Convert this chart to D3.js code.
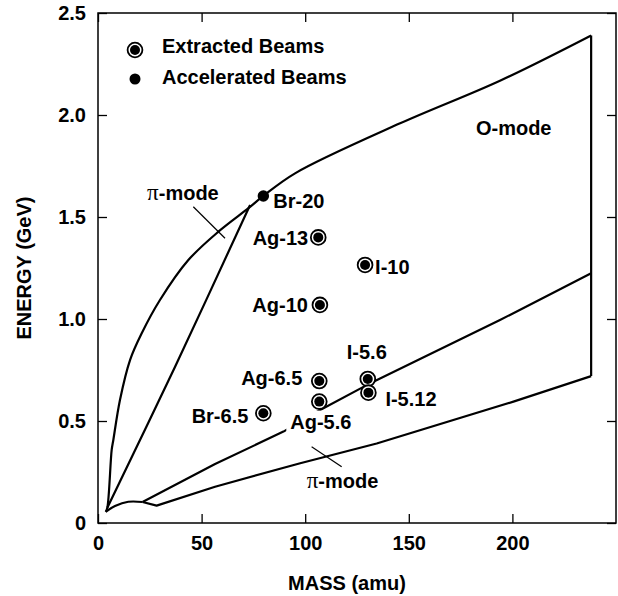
<!DOCTYPE html>
<html>
<head>
<meta charset="utf-8">
<script src="https://cdn.jsdelivr.net/npm/d3@7"></script>
<style>
body { margin: 0; background: #fff; }
svg { font-family: "Liberation Sans", Arial, Helvetica, sans-serif; font-weight: bold; }
.frame { fill: none; stroke: #000; stroke-width: 1.5; }
.curve { fill: none; stroke: #000; stroke-width: 2.2; stroke-linejoin: round; }
.leader { stroke: #000; stroke-width: 1.2; }
.axis text { font-size: 20px; font-weight: bold; fill: #000; font-family: "Liberation Sans", Arial, sans-serif; }
.axis line { stroke: #000; stroke-width: 1.3; }
.axis path { display: none; }
.lbl { font-size: 20px; fill: #000; }
</style>
</head>
<body>
<svg width="618" height="596"></svg>
<script>
// beam points (mass in amu, energy in GeV)
const beamNames  = ['Br-20', 'Ag-13', 'I-10', 'Ag-10', 'Ag-6.5', 'Ag-5.6', 'I-5.6', 'I-5.12', 'Br-6.5'];
const beamMass   = [79.8, 106.3, 128.9, 107.1, 106.8, 106.8, 130.2, 130.5, 79.8];
const beamEnergy = [1.603, 1.40, 1.265, 1.069, 0.696, 0.595, 0.706, 0.639, 0.538];
const beamKind   = ['accelerated', 'extracted', 'extracted', 'extracted', 'extracted', 'extracted', 'extracted', 'extracted', 'extracted'];

// boundary curves [mass, energy]
const upperEdge  = [[3.7,0.055],[4.5,0.075],[6.6,0.358],[7.4,0.407],[10.6,0.603],[15.5,0.8],[21.1,0.93],[29.9,1.093],[43.6,1.289],[58.1,1.428],[72.6,1.543],[79.8,1.603],[95.1,1.714],[145.8,1.959],[194,2.168],[238,2.39]];
const piLine     = [[4.5,0.075],[37.2,0.766],[73.4,1.559]];
const bumpArc    = [[3.7,0.055],[8.2,0.083],[14.6,0.104],[21.5,0.103]];
const middleLine = [[21.5,0.103],[56.5,0.289],[89.5,0.448],[107,0.553],[129.7,0.676],[194,0.995],[238,1.224]];
const lowerLine  = [[21.5,0.103],[28.3,0.085],[56.5,0.178],[97.6,0.293],[134.5,0.39],[200.5,0.595],[238,0.72]];
const rightEdge  = [[238,2.39],[238,0.72]];

const piLeaders  = [[[46,1.55],[61.3,1.396]], [[103.1,0.374],[117.6,0.276]]];
const modeLabels = [['π', '-mode', 23.7, 1.583], ['π', '-mode', 100.7, 0.172], ['', 'O-mode', 182.4, 1.902]];

const xTicks = [0, 50, 100, 150, 200];
const yTicks = [0, 0.5, 1.0, 1.5, 2.0, 2.5];

// label placement around each marker, pixels
const labelPos = {
    'Br-20':  {dx: 10,  dy: 12,  anchor: 'start'},
    'Ag-13':  {dx: -10, dy: 8,   anchor: 'end'},
    'I-10':   {dx: 10,  dy: 9,   anchor: 'start'},
    'Ag-10':  {dx: -12, dy: 7,   anchor: 'end'},
    'Ag-6.5': {dx: -17, dy: 4,   anchor: 'end'},
    'Ag-5.6': {dx: -29, dy: 27,  anchor: 'start', knockout: true},
    'I-5.6':  {dx: -1,  dy: -20, anchor: 'middle'},
    'I-5.12': {dx: 17,  dy: 13,  anchor: 'start'},
    'Br-6.5': {dx: -15, dy: 10,  anchor: 'end'}
};

let svg = d3.select('svg'),
    mLeft = 98, mRight = 616, mTop = 13, mBottom = 523,
    x = d3.scaleLinear().domain([0, 250]).range([mLeft, mRight]),
    y = d3.scaleLinear().domain([0, 2.5]).range([mBottom, mTop]);

// axes, ticks pointing inwards on all four sides
let yFmt = d => d === 0 ? '0' : d3.format('.1f')(d);
svg.append('g').attr('class', 'axis')
    .attr('transform', `translate(${mLeft},0)`)
    .call(d3.axisLeft(y).tickValues(yTicks).tickFormat(yFmt).tickSizeInner(-9).tickSizeOuter(0).tickPadding(12));
svg.append('g').attr('class', 'axis')
    .attr('transform', `translate(0,${mBottom})`)
    .call(d3.axisBottom(x).tickValues(xTicks).tickSizeInner(-9).tickSizeOuter(0).tickPadding(13));
svg.append('g').attr('class', 'axis')
    .attr('transform', `translate(0,${mTop})`)
    .call(d3.axisTop(x).tickValues(xTicks).tickFormat('').tickSizeInner(-9).tickSizeOuter(0));
svg.append('g').attr('class', 'axis')
    .attr('transform', `translate(${mRight},0)`)
    .call(d3.axisRight(y).tickValues(yTicks).tickFormat('').tickSizeInner(-9).tickSizeOuter(0));

svg.append('rect').attr('class', 'frame')
    .attr('x', mLeft).attr('y', mTop)
    .attr('width', mRight - mLeft).attr('height', mBottom - mTop);

svg.append('text').attr('class', 'lbl')
    .attr('text-anchor', 'middle')
    .attr('transform', `translate(31,${(mTop + mBottom) / 2}) rotate(-90)`)
    .text('ENERGY (GeV)');
svg.append('text').attr('class', 'lbl')
    .attr('text-anchor', 'middle')
    .attr('x', 347).attr('y', 590)
    .text('MASS (amu)');

// curves
let smooth = d3.line().x(d => x(d[0])).y(d => y(d[1])).curve(d3.curveCatmullRom.alpha(0.5));
let straight = d3.line().x(d => x(d[0])).y(d => y(d[1]));
let curves = svg.append('g');
curves.append('path').attr('class', 'curve').attr('d', smooth(upperEdge));
curves.append('path').attr('class', 'curve').attr('d', smooth(piLine));
curves.append('path').attr('class', 'curve').attr('d', smooth(bumpArc));
curves.append('path').attr('class', 'curve').attr('d', straight(middleLine));
curves.append('path').attr('class', 'curve').attr('d', straight(lowerLine));
curves.append('path').attr('class', 'curve').attr('d', straight(rightEdge));

svg.append('g').selectAll('line').data(piLeaders).enter().append('line')
    .attr('class', 'leader')
    .attr('x1', d => x(d[0][0])).attr('y1', d => y(d[0][1]))
    .attr('x2', d => x(d[1][0])).attr('y2', d => y(d[1][1]));

let modes = svg.append('g').selectAll('text').data(modeLabels).enter().append('text')
    .attr('class', 'lbl')
    .attr('x', d => x(d[2])).attr('y', d => y(d[3]));
modes.append('tspan')
    .style('font-family', '"Liberation Serif", "DejaVu Serif", serif')
    .style('font-weight', 'normal').style('font-size', '23px')
    .text(d => d[0]);
modes.append('tspan').text(d => d[1]);

// beam markers and labels
let beams = beamNames.map((n, i) => ({name: n, mass: beamMass[i], energy: beamEnergy[i], kind: beamKind[i]}));
let labels = svg.append('g');
beams.forEach(b => {
    let p = labelPos[b.name];
    let t = labels.append('text').attr('class', 'lbl')
        .attr('x', x(b.mass) + p.dx).attr('y', y(b.energy) + p.dy)
        .attr('text-anchor', p.anchor)
        .text(b.name);
    if (p.knockout) {
        let bb = t.node().getBBox();
        labels.insert('rect', 'text')
            .attr('x', bb.x - 4).attr('y', bb.y).attr('width', bb.width + 4).attr('height', bb.height)
            .attr('fill', '#fff');
    }
});

let marks = svg.append('g').selectAll('g').data(beams).enter().append('g')
    .attr('transform', d => `translate(${x(d.mass)},${y(d.energy)})`);
marks.filter(d => d.kind === 'extracted').append('circle')
    .attr('r', 7.4).attr('fill', '#fff').attr('stroke', '#000').attr('stroke-width', 1.8);
marks.append('circle')
    .attr('r', d => d.kind === 'extracted' ? 5 : 5.7).attr('fill', '#000');

// legend
let legend = svg.append('g');
legend.append('circle').attr('cx', 135).attr('cy', 50).attr('r', 7.4)
    .attr('fill', '#fff').attr('stroke', '#000').attr('stroke-width', 1.8);
legend.append('circle').attr('cx', 135).attr('cy', 50).attr('r', 5).attr('fill', '#000');
legend.append('circle').attr('cx', 135).attr('cy', 79).attr('r', 5.5).attr('fill', '#000');
legend.append('text').attr('class', 'lbl').attr('x', 162).attr('y', 53).text('Extracted Beams');
legend.append('text').attr('class', 'lbl').attr('x', 162).attr('y', 84).text('Accelerated Beams');
</script>
</body>
</html>
